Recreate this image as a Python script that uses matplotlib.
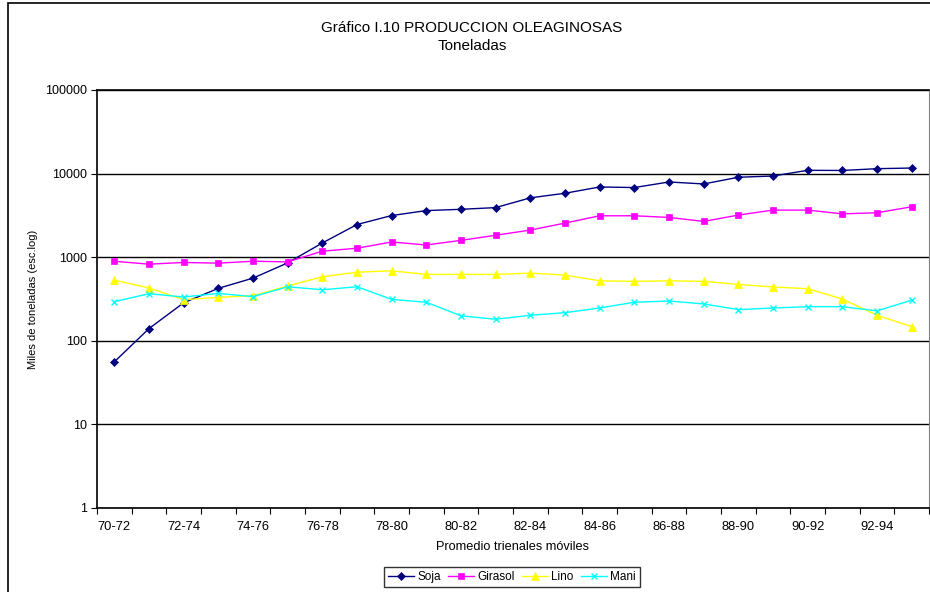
import numpy as np
import matplotlib
matplotlib.use("Agg")
import matplotlib.pyplot as plt
from matplotlib.patches import Rectangle

plt.rcParams['font.family'] = ['Liberation Sans', 'DejaVu Sans']

# trienios moviles 70-72 ... 93-95
periodos = ["%d-%d" % (a, a + 2) for a in range(70, 94)]

soja = [56, 140, 285, 424, 562, 855, 1480, 2460, 3150, 3610, 3740, 3920,
        5130, 5820, 6920, 6810, 7940, 7520, 9040, 9360, 10950, 10900, 11450, 11660]
girasol = [895, 825, 865, 849, 895, 879, 1180, 1280, 1520, 1400, 1590, 1830,
           2110, 2560, 3130, 3130, 2990, 2680, 3190, 3660, 3660, 3300, 3400, 4010]
lino = [532, 428, 310, 331, 346, 452, 583, 662, 687, 622, 622, 622,
        645, 611, 522, 514, 522, 514, 473, 440, 420, 316, 202, 148]
mani = [294, 366, 334, 369, 337, 443, 408, 443, 313, 289, 199, 181,
        202, 217, 247, 289, 299, 276, 236, 247, 256, 256, 228, 306]

series = [
    ("Soja", soja, "#000080", "D", 4),
    ("Girasol", girasol, "#FF00FF", "s", 5),
    ("Lino", lino, "#FFFF00", "^", 5.5),
    ("Mani", mani, "#00FFFF", "x", 5),
]

fig = plt.figure(figsize=(9.3, 5.92), dpi=100)
ax = fig.add_axes([97 / 930, 1 - 508 / 592, 832 / 930, 418 / 592])

x = np.arange(len(periodos))
for nombre, vals, color, mk, ms in series:
    ax.plot(x, vals, color=color, marker=mk, markersize=ms, linewidth=1,
            markeredgewidth=1 if mk == "x" else 0.5, markeredgecolor=color,
            label=nombre)

ax.set_yscale("log")
ax.set_ylim(1, 100000)
ax.set_yticks([1, 10, 100, 1000, 10000, 100000])
ax.set_yticklabels(["1", "10", "100", "1000", "10000", "100000"])
ax.yaxis.set_minor_locator(matplotlib.ticker.NullLocator())
ax.grid(axis="y", color="black", linewidth=1)

ax.set_xlim(-0.5, len(periodos) - 0.5)
ax.set_xticks(np.arange(-0.5, len(periodos), 1))
ax.set_xticklabels([])
ax.set_xticks(x[::2], minor=True)
ax.set_xticklabels(periodos[::2], minor=True)
ax.tick_params(axis="x", which="minor", length=0, pad=9, labelsize=9.3)
ax.tick_params(axis="x", which="major", length=4, direction="out")
ax.tick_params(axis="y", length=4, direction="out", labelsize=9)

for s in ["left", "top", "bottom"]:
    ax.spines[s].set_color("black")
    ax.spines[s].set_linewidth(1.2)
ax.spines["right"].set_color("gray")

ax.set_xlabel("Promedio trienales móviles", fontsize=9.2, labelpad=6)
ax.set_ylabel("Miles de toneladas (esc.log)", fontsize=8, labelpad=5)

fig.text(472 / 930, 1 - 28 / 592, "Gráfico I.10 PRODUCCION OLEAGINOSAS",
         ha="center", va="center", fontsize=11)
fig.text(472 / 930, 1 - 46 / 592, "Toneladas", ha="center", va="center",
         fontsize=11)

leg = fig.legend(loc="center", bbox_to_anchor=(512 / 930, 1 - 577 / 592),
                 ncol=4, fontsize=8.5, frameon=True, fancybox=False,
                 handlelength=2.2, handletextpad=0.3, columnspacing=0.6,
                 borderpad=0.3)
leg.get_frame().set_edgecolor("black")
leg.get_frame().set_linewidth(1)

fig.patches.append(Rectangle((8 / 930, -0.1), 1.2, 1 - 3 / 592 + 0.1,
                             transform=fig.transFigure, fill=False,
                             edgecolor="black", linewidth=1.2))

fig.savefig("out.png", dpi=100)
